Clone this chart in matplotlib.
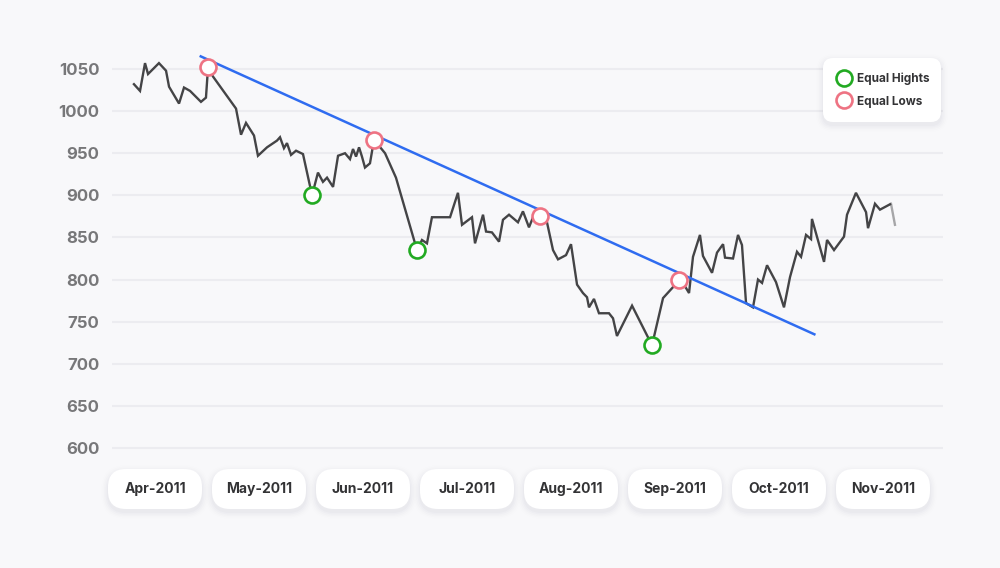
import matplotlib
matplotlib.use("Agg")
import matplotlib.pyplot as plt
from matplotlib.patches import FancyBboxPatch
from matplotlib.lines import Line2D
from matplotlib.transforms import IdentityTransform

# ---------------- data ----------------
months = ["Apr-2011", "May-2011", "Jun-2011", "Jul-2011",
          "Aug-2011", "Sep-2011", "Oct-2011", "Nov-2011"]
month_pos = [0, 1, 2, 3, 4, 5, 6, 7]

price_x = [-0.21, -0.144, -0.096, -0.067, 0.038, 0.106, 0.135, 0.231, 0.279, 0.337,
           0.442, 0.490, 0.510, 0.558, 0.779, 0.827, 0.875, 0.952, 0.990, 1.077,
           1.173, 1.202, 1.240, 1.269, 1.308, 1.356, 1.423, 1.510, 1.567, 1.615,
           1.654, 1.712, 1.760, 1.827, 1.875, 1.904, 1.933, 1.962, 1.990, 2.019,
           2.067, 2.106, 2.212, 2.317, 2.519, 2.567, 2.615, 2.663, 2.837, 2.913,
           2.952, 3.048, 3.077, 3.154, 3.183, 3.240, 3.308, 3.346, 3.404, 3.490,
           3.538, 3.596, 3.635, 3.702, 3.769, 3.827, 3.875, 3.952, 4.000, 4.058,
           4.115, 4.154, 4.173, 4.221, 4.269, 4.365, 4.404, 4.442, 4.587, 4.779,
           4.885, 4.981, 5.038, 5.096, 5.135, 5.173, 5.240, 5.269, 5.356, 5.404,
           5.462, 5.481, 5.558, 5.606, 5.644, 5.683, 5.750, 5.798, 5.837, 5.885,
           5.971, 6.048, 6.106, 6.173, 6.212, 6.260, 6.308, 6.317, 6.433, 6.462,
           6.529, 6.625, 6.654, 6.740, 6.837, 6.856, 6.923, 6.971, 7.077, 7.115]
price_y = [1033, 1024, 1057, 1044, 1057, 1048, 1029, 1009, 1028, 1024,
           1011, 1016, 1052, 1041, 1003, 972, 986, 971, 947, 957,
           965, 969, 956, 962, 948, 953, 949, 900, 927, 916,
           921, 910, 947, 950, 943, 955, 946, 957, 946, 933,
           938, 966, 950, 921, 835, 847, 843, 874, 874, 903,
           865, 874, 843, 877, 857, 856, 845, 871, 877, 868,
           881, 862, 874, 876, 868, 835, 824, 829, 842, 794,
           784, 779, 767, 777, 760, 760, 754, 733, 769, 722,
           778, 791, 800, 792, 784, 827, 853, 828, 808, 832,
           842, 826, 825, 853, 841, 772, 767, 800, 796, 817,
           797, 767, 803, 833, 827, 853, 848, 872, 821, 847,
           835, 851, 877, 903, 880, 861, 890, 883, 890, 865]

trend_x = [0.44, 6.34]
trend_y = [1065, 735]

lows_x = [0.510, 2.106, 3.702, 5.038]    # "Equal Lows" markers
lows_y = [1052, 966, 876, 800]
highs_x = [1.510, 2.519, 4.779]          # "Equal Hights" markers
highs_y = [900, 835, 722]

yticks = [600, 650, 700, 750, 800, 850, 900, 950, 1000, 1050]

# ---------------- style ----------------
BG = "#F8F8FA"
GRID = "#ECECF0"
LINE = "#444446"
BLUE = "#2F6CF0"
GREEN = "#22AA22"
PINK = "#EE7383"
FONT = ["Inter", "DejaVu Sans"]
plt.rcParams["font.family"] = FONT

W, H = 1000, 568
fig = plt.figure(figsize=(10, 5.68), dpi=100, facecolor=BG)
ax_left, ax_right = 112 / W, 943 / W
ylo, yhi = 590, 1075
px_per_unit = 42.1 / 50
bottom_px = 448 + (600 - ylo) * px_per_unit
top_px = 69 - (yhi - 1050) * px_per_unit
ax = fig.add_axes([ax_left, 1 - bottom_px / H, ax_right - ax_left, (bottom_px - top_px) / H])
ax.set_facecolor(BG)
x0 = (112 - 155) / 104
x1 = (943 - 155) / 104
ax.set_xlim(x0, x1)
ax.set_ylim(ylo, yhi)
for s in ax.spines.values():
    s.set_visible(False)

# grid
for v in yticks:
    ax.axhline(v, color=GRID, lw=1.5, zorder=0)
ax.set_yticks(yticks)
ax.set_yticklabels([str(v) for v in yticks])
ax.tick_params(axis="y", length=0, pad=9, labelsize=12, labelcolor="#777779")
for t in ax.get_yticklabels():
    t.set_fontweight("bold")
ax.set_xticks([])

# price line (last segment fades out)
ax.plot(price_x[:-1], price_y[:-1], color=LINE, lw=1.7, zorder=3,
        solid_joinstyle="miter", solid_capstyle="butt")
ax.plot(price_x[-2:], price_y[-2:], color=LINE, lw=1.7, alpha=0.45, zorder=3)

# trend line
ax.plot(trend_x, trend_y, color=BLUE, lw=1.8, zorder=4)

# markers
ax.plot(highs_x, highs_y, ls="none", marker="o", ms=11.5, mfc="white",
        mec=GREEN, mew=1.9, zorder=5)
ax.plot(lows_x, lows_y, ls="none", marker="o", ms=11.5, mfc="white",
        mec=PINK, mew=1.9, zorder=5)

# ---------- month pills (drawn in display pixels) ----------
fig.canvas.draw()
def ypix(y):
    return H - y  # top-based px -> display coords

def soft_box(x, ytop, w, h, r, z):
    # shadow
    for k, a in enumerate([0.020, 0.014, 0.010, 0.007, 0.005]):
        g = 2 + 3 * k
        sh = FancyBboxPatch((x - g / 2, ypix(ytop + h) - 3 - g / 2), w + g, h + g,
                            boxstyle=f"round,pad=0,rounding_size={r + g / 2}",
                            transform=IdentityTransform(), fc="#303050", ec="none",
                            alpha=a, zorder=z)
        fig.patches.append(sh)
    p = FancyBboxPatch((x, ypix(ytop + h)), w, h,
                       boxstyle=f"round,pad=0,rounding_size={r}",
                       transform=IdentityTransform(), fc="white", ec="none", zorder=z + 0.1)
    fig.patches.append(p)

pill_w, pill_h = 94, 40
pill_cy = 489
for pos, lab in zip(month_pos, months):
    cx = ax.transData.transform((pos, 600))[0]
    soft_box(cx - pill_w / 2, pill_cy - pill_h / 2, pill_w, pill_h, 18, 1)
    fig.text(cx / W, 1 - pill_cy / H, lab, ha="center", va="center",
             fontsize=10, fontweight="bold", color="#333335", zorder=3)

# ---------- legend ----------
lx0, ly0, lx1, ly1 = 823, 58, 941, 122
soft_box(lx0, ly0, lx1 - lx0, ly1 - ly0, 10, 6)
handles = [Line2D([], [], ls="none", marker="o", ms=11.5, mfc="white", mec=GREEN, mew=1.9),
           Line2D([], [], ls="none", marker="o", ms=11.5, mfc="white", mec=PINK, mew=1.9)]
leg = fig.legend(handles, ["Equal Hights", "Equal Lows"],
                 loc="upper left", bbox_to_anchor=(lx0 / W, 1 - ly0 / H),
                 bbox_transform=fig.transFigure, frameon=False,
                 prop={"family": FONT, "weight": "bold", "size": 8.5},
                 handlelength=1.0, handletextpad=0.6, labelspacing=0.85,
                 borderpad=1.27, borderaxespad=0)
leg.set_zorder(7)
for t in leg.get_texts():
    t.set_color("#333335")

fig.savefig("out.png", dpi=100, facecolor=BG)
